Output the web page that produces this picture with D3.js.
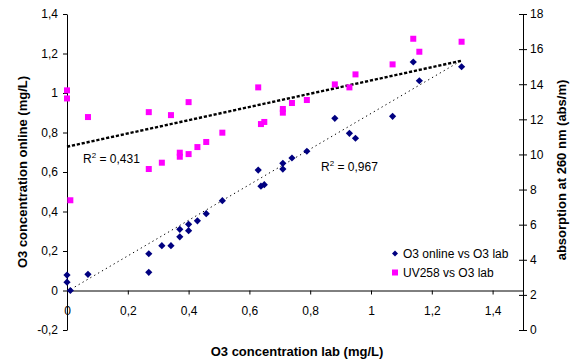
<!DOCTYPE html>
<html>
<head>
<meta charset="utf-8">
<script src="https://cdn.jsdelivr.net/npm/d3@7"></script>
<style>
  html, body { margin: 0; padding: 0; background: #fff; }
  svg { display: block; font-family: 'Liberation Sans', Arial, sans-serif; }
</style>
</head>
<body>
<div id="chart"></div>
<script>
// O3 lab concentration (shared x values, mg/L)
const labValues = [0, 0, 0.011, 0.069, 0.269, 0.269, 0.312, 0.342, 0.371, 0.371, 0.4, 0.4, 0.429, 0.458, 0.511,
  0.629, 0.638, 0.649, 0.71, 0.71, 0.74, 0.789, 0.881, 0.929, 0.949, 1.071, 1.139, 1.159, 1.298]
// O3 online (left axis, mg/L)
const onlineValues = [0.078, 0.042, 0, 0.082, 0.186, 0.092, 0.227, 0.227, 0.272, 0.31, 0.303, 0.335, 0.353, 0.389, 0.455,
  0.61, 0.528, 0.536, 0.615, 0.644, 0.671, 0.705, 0.872, 0.796, 0.771, 0.882, 1.157, 1.062, 1.133]
// UV258 absorption (right axis, abs/m)
const uvValues = [13.65, 13.19, 7.39, 12.13, 12.41, 9.17, 9.53, 12.24, 9.87, 10.1, 12.98, 10.02, 10.42, 10.71, 11.24,
  13.82, 11.73, 11.85, 12.59, 12.38, 12.93, 13.1, 13.99, 13.82, 14.56, 15.13, 16.59, 15.85, 16.42]

// trendline values at the lowest and highest lab value
const onlineTrend = [-0.005, 1.165]
const uvTrend = [10.44, 15.34]

const xTicks = [0, 0.2, 0.4, 0.6, 0.8, 1, 1.2, 1.4]
const leftTicks = [-0.2, 0, 0.2, 0.4, 0.6, 0.8, 1, 1.2, 1.4]
const rightTicks = [0, 2, 4, 6, 8, 10, 12, 14, 16, 18]
const seriesNames = ['O3 online vs O3 lab', 'UV258 vs O3 lab']
const r2Labels = ['0,431', '0,967']

const width = 573
const height = 360
const plot = { left: 67, right: 523, top: 14, bottom: 330 }

const x = d3.scaleLinear().domain([0, 1.5]).range([plot.left, plot.right])
const yL = d3.scaleLinear().domain([-0.2, 1.4]).range([plot.bottom, plot.top])
const yR = d3.scaleLinear().domain([0, 18]).range([plot.bottom, plot.top])

const comma = (d) => String(+d.toFixed(2)).replace('.', ',')

const svg = d3.select('#chart').append('svg')
  .attr('width', width)
  .attr('height', height)

const xExtent = d3.extent(labValues)

// axes
const gx = svg.append('g')
  .attr('transform', `translate(0,${yL(0)})`)
  .call(d3.axisBottom(x).tickValues(xTicks).tickSize(4).tickSizeOuter(0).tickFormat(comma))
gx.selectAll('text').attr('dy', null).attr('y', 24)

const gl = svg.append('g')
  .attr('transform', `translate(${plot.left},0)`)
  .call(d3.axisLeft(yL).tickValues(leftTicks).tickSize(4).tickSizeOuter(0).tickFormat(comma))
gl.selectAll('text').attr('x', -9)

const gr = svg.append('g')
  .attr('transform', `translate(${plot.right},0)`)
  .call(d3.axisRight(yR).tickValues(rightTicks).tickSize(4).tickSizeOuter(0))
gr.selectAll('.tick line').attr('x1', -4)
gr.selectAll('text').attr('x', 7)

svg.selectAll('.domain').attr('stroke', '#000').attr('stroke-width', 1)
svg.selectAll('.tick line').attr('stroke', '#000')
svg.selectAll('.tick text').attr('font-size', 12).attr('fill', '#000')
  .style('font-family', "'Liberation Sans', Arial, sans-serif")

// trendlines
svg.append('line')
  .attr('x1', x(xExtent[0])).attr('x2', x(xExtent[1]))
  .attr('y1', yR(uvTrend[0])).attr('y2', yR(uvTrend[1]))
  .attr('stroke', '#000').attr('stroke-width', 2.4).attr('stroke-dasharray', '3.2 1.8')

svg.append('line')
  .attr('x1', x(xExtent[0])).attr('x2', x(xExtent[1]))
  .attr('y1', yL(onlineTrend[0])).attr('y2', yL(onlineTrend[1]))
  .attr('stroke', '#000').attr('stroke-width', 1).attr('stroke-dasharray', '1.3 3.2')

// points
const diamond = 'M0,-3.6L3.6,0L0,3.6L-3.6,0Z'
svg.append('g').selectAll('path')
  .data(labValues)
  .join('path')
  .attr('d', diamond)
  .attr('transform', (d, i) => `translate(${x(d)},${yL(onlineValues[i])})`)
  .attr('fill', '#000080')

svg.append('g').selectAll('rect')
  .data(labValues)
  .join('rect')
  .attr('x', (d) => x(d) - 3)
  .attr('y', (d, i) => yR(uvValues[i]) - 3)
  .attr('width', 6)
  .attr('height', 6)
  .attr('fill', '#ff00ff')

// R² labels
const addR2 = (px, py, value) => {
  const t = svg.append('text').attr('x', px).attr('y', py).attr('font-size', 12).attr('fill', '#000')
  t.append('tspan').text('R')
  t.append('tspan').text('2').attr('font-size', 8).attr('dy', -5)
  t.append('tspan').text(` = ${value}`).attr('dy', 5)
}
addR2(83, 163, r2Labels[0])
addR2(321, 171, r2Labels[1])

// legend
const legend = svg.append('g')
legend.append('path').attr('d', 'M0,-3L3,0L0,3L-3,0Z').attr('transform', 'translate(395,253.5)').attr('fill', '#000080')
legend.append('rect').attr('x', 392).attr('y', 269.5).attr('width', 6).attr('height', 6).attr('fill', '#ff00ff')
legend.selectAll('text')
  .data(seriesNames)
  .join('text')
  .attr('x', 403)
  .attr('y', (d, i) => 257.5 + i * 19)
  .attr('font-size', 12)
  .attr('fill', '#000')
  .text((d) => d)

// axis titles
svg.append('text')
  .attr('x', 297).attr('y', 356)
  .attr('text-anchor', 'middle').attr('font-size', 13).attr('font-weight', 'bold')
  .text('O3 concentration lab (mg/L)')

svg.append('text')
  .attr('transform', 'translate(27,172) rotate(-90)')
  .attr('text-anchor', 'middle').attr('font-size', 13).attr('font-weight', 'bold')
  .text('O3 concentration online (mg/L)')

svg.append('text')
  .attr('transform', 'translate(566,170) rotate(-90)')
  .attr('text-anchor', 'middle').attr('font-size', 13).attr('font-weight', 'bold')
  .text('absorption at 260 nm (abs/m)')
</script>
</body>
</html>
